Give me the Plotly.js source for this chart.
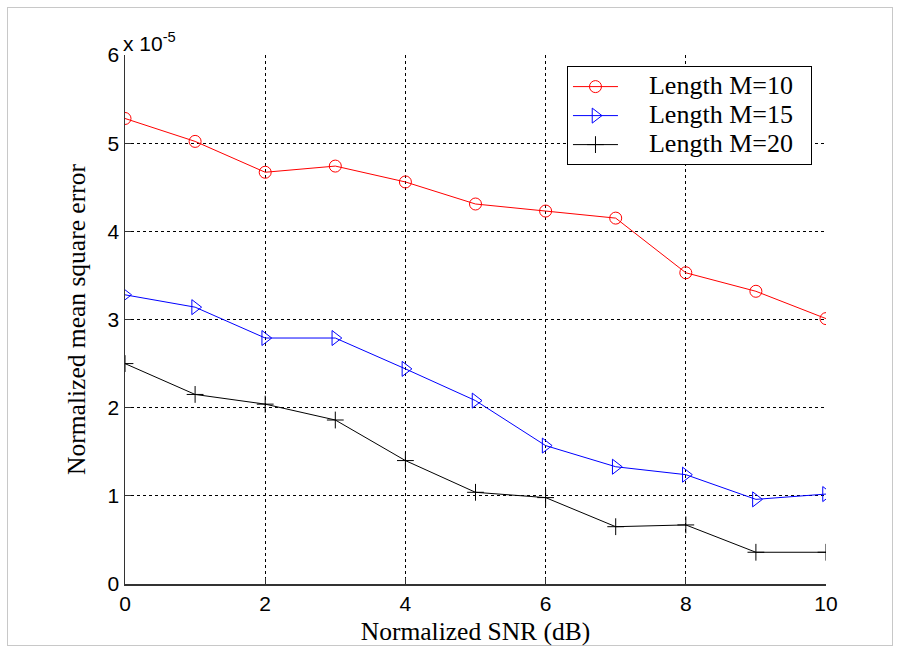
<!DOCTYPE html>
<html>
<head>
<meta charset="utf-8">
<script src="https://cdn.plot.ly/plotly-3.0.1.min.js"></script>
<style>
html,body{margin:0;padding:0;background:#fff;}
#frame{position:absolute;left:7px;top:7px;width:886px;height:639px;border:1px solid #c8c8c8;box-sizing:border-box;}
#chart{position:absolute;left:0;top:0;width:901px;height:653px;}
</style>
</head>
<body>
<div id="frame"></div>
<div id="chart"></div>
<script>
// SNR values (dB)
var snr = [0, 1, 2, 3, 4, 5, 6, 7, 8, 9, 10];
// Normalized MSE in units of 1e-5
var mseM10 = [5.28, 5.02, 4.67, 4.74, 4.56, 4.31, 4.23, 4.15, 3.53, 3.32, 3.01];
var mseM15 = [3.28, 3.14, 2.79, 2.79, 2.44, 2.08, 1.57, 1.33, 1.24, 0.96, 1.02];
var mseM20 = [2.50, 2.15, 2.04, 1.86, 1.40, 1.04, 0.98, 0.65, 0.67, 0.36, 0.36];
var seriesNames = ["Length M=10", "Length M=15", "Length M=20"];
var xTicks = [0, 2, 4, 6, 8, 10];
var yTicks = [0, 1, 2, 3, 4, 5, 6];

var serif = "Liberation Serif, Times New Roman, serif";
var sans = "Liberation Sans, Arial, sans-serif";
function legName(s) {
  return '<span style="font-size:26px">\u00A0\u00A0\u00A0\u00A0' + s + '\u00A0\u00A0</span>';
}

var traces = [
  {x: snr, y: mseM10, name: legName(seriesNames[0]), mode: "lines+markers",
   line: {color: "#ff0000", width: 1},
   marker: {symbol: "circle-open", size: 12, color: "#ff0000", line: {width: 1}}},
  {x: snr, y: mseM15, name: legName(seriesNames[1]), mode: "lines+markers",
   line: {color: "#0000ff", width: 1},
   marker: {symbol: "triangle-right-open", size: 13, color: "#0000ff", line: {width: 1}}},
  {x: snr, y: mseM20, name: legName(seriesNames[2]), mode: "lines+markers",
   line: {color: "#000000", width: 1},
   marker: {symbol: "cross-thin-open", size: 12, color: "#000000", line: {width: 1, color: "#000000"}}}
];

var layout = {
  width: 901, height: 653,
  paper_bgcolor: "rgba(0,0,0,0)", plot_bgcolor: "rgba(0,0,0,0)",
  margin: {l: 125, r: 75, t: 55, b: 69, pad: 0},
  showlegend: true,
  legend: {x: 0.6305, y: 0.979, xanchor: "left", yanchor: "top",
    bgcolor: "#ffffff", bordercolor: "#000000", borderwidth: 1,
    font: {family: serif, size: 20, color: "#000"},
    tracegroupgap: 0, itemwidth: 45},
  xaxis: {range: [0, 10], tickvals: xTicks, ticktext: xTicks.map(String),
    showgrid: true, gridcolor: "#000", griddash: "3px,3px", gridwidth: 1,
    zeroline: false, showline: true, linecolor: "#333", linewidth: 1.5,
    ticks: "inside", ticklen: 6, tickcolor: "#333",
    tickfont: {family: sans, size: 21, color: "#000"},
    title: {text: "Normalized SNR (dB)", standoff: 8,
      font: {family: serif, size: 25.5, color: "#000"}}},
  yaxis: {range: [0, 6], tickvals: yTicks, ticktext: yTicks.map(String),
    showgrid: true, gridcolor: "#000", griddash: "3px,3px", gridwidth: 1,
    zeroline: false, showline: true, linecolor: "#333", linewidth: 1.5,
    ticks: "inside", ticklen: 6, tickcolor: "#333",
    tickfont: {family: sans, size: 21, color: "#000"},
    title: {text: "Normalized mean square error", standoff: 14,
      font: {family: serif, size: 25.5, color: "#000"}}},
  annotations: [{xref: "paper", yref: "paper", x: 0, y: 1, xanchor: "left", yanchor: "bottom",
    xshift: -4, yshift: -2, showarrow: false, text: "x 10<sup>-5</sup>",
    font: {family: sans, size: 21, color: "#000"}}]
};

Plotly.newPlot("chart", traces, layout, {displayModeBar: false, staticPlot: true});
</script>
</body>
</html>
